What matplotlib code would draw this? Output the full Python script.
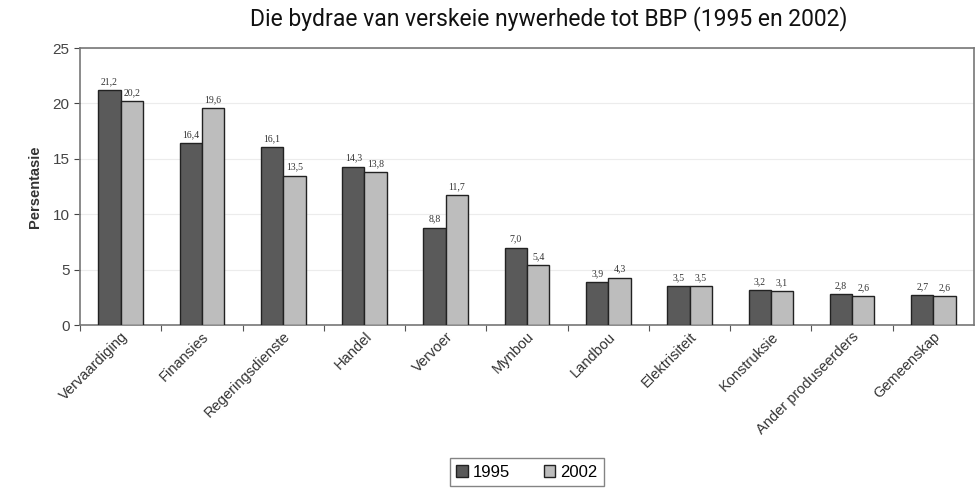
import matplotlib.pyplot as plt
import numpy as np

industries = [
    "Vervaardiging", "Finansies", "Regeringsdienste", "Handel", "Vervoer",
    "Mynbou", "Landbou", "Elektrisiteit", "Konstruksie",
    "Ander produseerders", "Gemeenskap",
]
share_1995 = [21.2, 16.4, 16.1, 14.3, 8.8, 7.0, 3.9, 3.5, 3.2, 2.8, 2.7]
share_2002 = [20.2, 19.6, 13.5, 13.8, 11.7, 5.4, 4.3, 3.5, 3.1, 2.6, 2.6]
years = ["1995", "2002"]

plt.rcParams["font.family"] = ["Liberation Sans", "DejaVu Sans"]

fig = plt.figure(figsize=(9.76, 4.95), dpi=100)
ax = fig.add_axes([0.082, 0.343, 0.916, 0.560])

x = np.arange(len(industries))
w = 0.275
b1 = ax.bar(x - w / 2, share_1995, w, color="#5a5a5a", edgecolor="#222222",
            linewidth=1.0, label=years[0], zorder=3)
b2 = ax.bar(x + w / 2, share_2002, w, color="#bdbdbd", edgecolor="#222222",
            linewidth=1.0, label=years[1], zorder=3)

def fmt(v):
    return f"{v:.1f}".replace(".", ",")

for bars, vals in ((b1, share_1995), (b2, share_2002)):
    for r, v in zip(bars, vals):
        ax.text(r.get_x() + r.get_width() / 2, v + 0.35, fmt(v),
                ha="center", va="bottom", fontsize=7, color="#333333",
                family=["Liberation Serif", "DejaVu Serif"])

ax.set_xlim(-0.5, len(industries) - 0.5)
ax.set_ylim(0, 25)
ax.set_yticks(range(0, 26, 5))
ax.yaxis.grid(True, color="#ececec", linewidth=0.8, zorder=0)
# group separators as major ticks, names on the minor ticks at group centres
ax.set_xticks(x - 0.5, minor=False)
ax.set_xticks(x, minor=True)
ax.set_xticklabels([""] * len(x))
ax.set_xticklabels(industries, minor=True, rotation=45, ha="right",
                   rotation_mode="anchor", fontsize=10.5, color="#333333")
ax.tick_params(axis="x", which="minor", length=0, pad=3)
ax.tick_params(axis="x", which="major", length=4, direction="out", color="#555555")
ax.tick_params(axis="y", labelsize=11, colors="#444444", length=4)
ax.set_ylabel("Persentasie", fontsize=10.5, fontweight="bold", color="#333333",
              labelpad=8)
for s in ax.spines.values():
    s.set_color("#777777")
    s.set_linewidth(1.2)

fig.suptitle("Die bydrae van verskeie nywerhede tot BBP (1995 en 2002)",
             x=0.562, y=0.988, fontsize=16.5, color="#111111", family="Roboto")

fig.legend(handles=[b1, b2], labels=years, loc="center",
           bbox_to_anchor=(0.54, 0.046), ncol=2, frameon=True, fancybox=False,
           edgecolor="#666666", fontsize=12, handlelength=0.7, handleheight=0.7,
           columnspacing=2.0, handletextpad=0.3, borderpad=0.4)

fig.savefig("out.png", dpi=100)
